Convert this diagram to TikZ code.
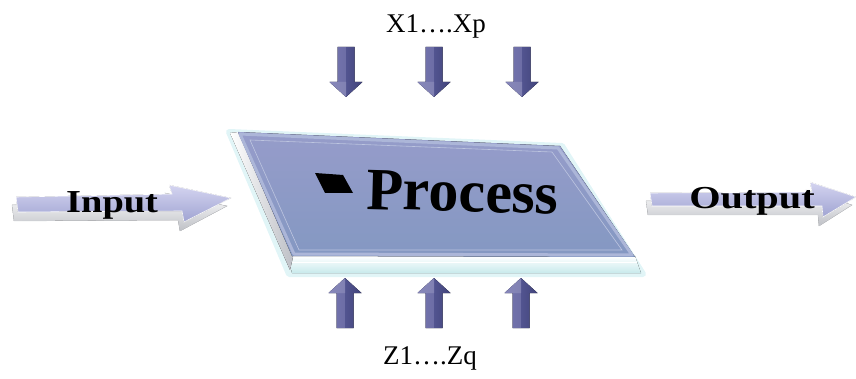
\documentclass[tikz,border=0pt]{standalone}
\usepackage{fontspec}
\setmainfont{Liberation Serif}
\begin{document}
\begin{tikzpicture}[x=1pt,y=-1pt]
  % palette
  \definecolor{slabhi}{RGB}{150,156,202}
  \definecolor{slablo}{RGB}{132,152,194}
  \definecolor{slabrim}{RGB}{172,182,216}
  \definecolor{edgecyan}{RGB}{200,234,236}
  \definecolor{glowcyan}{RGB}{170,225,232}
  \definecolor{lavhi}{RGB}{212,212,240}
  \definecolor{lavlo}{RGB}{160,164,210}
  \definecolor{bevlo}{RGB}{190,192,198}
  \definecolor{purpA}{RGB}{104,104,168}
  \definecolor{purpB}{RGB}{82,84,144}
  \definecolor{purpC}{RGB}{66,68,122}
  \tikzset{
    bevel/.style={top color=white, bottom color=bevlo, draw=bevlo!80, line width=0.4pt},
    lavface/.style={top color=lavhi, bottom color=lavlo, draw=white, line width=0.6pt},
    labelfont/.style={font=\fontsize{27}{30}\selectfont},
    arrowfont/.style={font=\bfseries\fontsize{32}{34}\selectfont, anchor=base west, inner sep=0pt},
    vdown/.pic={
      \fill[left color=purpA, right color=purpC, middle color=purpB]
        (-8.5,0) -- (8.5,0) -- (8.5,35) -- (16.5,35) -- (0,50) -- (-16.5,35) -- (-8.5,35) -- cycle;
      \fill[purpA!85!white, opacity=0.6] (-8.5,0) -- (0,0) -- (0,35) -- (-8.5,35) -- cycle;
      \fill[purpA!70!white, opacity=0.7] (-16.5,35) -- (0,35) -- (0,50) -- cycle;
    }
  }
  \useasboundingbox (0,0) rectangle (856,379);

  % ---- the process slab ----
  \draw[glowcyan, line width=6pt, opacity=0.35, line join=round]
    (229,132) -- (562,146) -- (643,274) -- (289,274) -- cycle;
  % bottom edge strip
  \fill[top color=white, bottom color=edgecyan]
    (288,256) -- (635,256) -- (641,273) -- (292,273) -- cycle;
  \draw[white, line width=0.8pt] (292,262) -- (637,262);
  % left bevelled edge
  \fill[left color=white, right color=bevlo]
    (230,133) -- (239,132) -- (293,257) -- (290,270) -- cycle;
  % top face
  \fill[top color=slabhi, bottom color=slablo]
    (238,132) -- (560,146) -- (635,257) -- (292,256) -- cycle;
  \draw[slabrim, line width=3pt, line join=round]
    (240,134) -- (558,148) -- (632,255) -- (294,254) -- cycle;
  \draw[slabrim!80!white, line width=0.6pt]
    (250,140) -- (552,152) -- (622,250) -- (299,250) -- cycle;

  % bullet and label on the slab
  \fill[black] (315,173) -- (343,175) -- (353,193) -- (325,193) -- cycle;
  \node[font=\bfseries\fontsize{60}{62}\selectfont, anchor=base west, rotate=-1.5,
        inner sep=0pt] (process) at (366,209) {Process};

  % ---- input arrow ----
  \filldraw[bevel] (12,205) -- (168,202) -- (165,193) -- (227,206) -- (180,231)
    -- (178,220) -- (14,221) -- cycle;
  \filldraw[lavface] (16,197) -- (172,194) -- (169,185) -- (231,198) -- (184,222)
    -- (182,211) -- (18,212) -- cycle;
  \node[arrowfont, xscale=1.2] (input) at (66,213) {Input};

  % ---- output arrow ----
  \filldraw[bevel] (646,201) -- (808,200) -- (806,190) -- (852,205) -- (819,226)
    -- (818,215) -- (648,215) -- cycle;
  \filldraw[lavface] (650,193) -- (812,192) -- (810,182) -- (856,197) -- (823,217)
    -- (822,206) -- (652,206) -- cycle;
  \node[arrowfont, xscale=1.26] (output) at (689,209) {Output};

  % ---- control arrows above ----
  \pic at (346,47) {vdown};
  \pic at (434,47) {vdown};
  \pic at (522,47) {vdown};
  \node[labelfont] (xlabel) at (436,26) {X1….Xp};

  % ---- resource arrows below ----
  \pic[yscale=-1] at (345,328) {vdown};
  \pic[yscale=-1] at (434,328) {vdown};
  \pic[yscale=-1] at (521,328) {vdown};
  \node[labelfont] (zlabel) at (430,358) {Z1….Zq};
\end{tikzpicture}
\end{document}
